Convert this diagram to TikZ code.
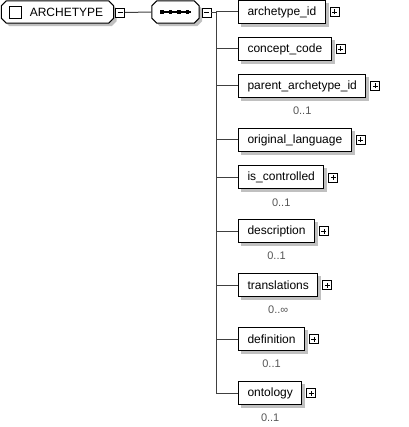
\documentclass[tikz,border=0pt]{standalone}
\usepackage{fontspec}
\setmainfont{Liberation Sans}
\usetikzlibrary{backgrounds}
\definecolor{shadowgray}{HTML}{C0C0C0}
\definecolor{linegray}{HTML}{404040}
\definecolor{multgray}{HTML}{555555}
\pgfdeclarelayer{shadowlayer}
\pgfsetlayers{shadowlayer,background,main}
\tikzset{
  elem/.style={draw=black, fill=white, line width=1pt, minimum height=23pt, inner xsep=9pt, inner ysep=0pt,
    anchor=west, font=\fontsize{12pt}{14pt}\selectfont},
  octa/.style={draw=none, minimum height=22pt, inner sep=0pt, font=\fontsize{12pt}{14pt}\selectfont},
  octline/.style={draw=black, fill=white, line width=1pt},
  shadowfill/.style={fill=shadowgray},
  expbox/.style={draw=black, fill=white, line width=0.9pt, minimum size=9pt, inner sep=0pt},
  minusbox/.style={expbox, path picture={\draw[line width=0.9pt] ([xshift=2pt]path picture bounding box.west) -- ([xshift=-2pt]path picture bounding box.east);}},
  plusbox/.style={expbox, anchor=west, path picture={
     \draw[line width=0.9pt] ([xshift=2pt]path picture bounding box.west) -- ([xshift=-2pt]path picture bounding box.east);
     \draw[line width=0.9pt] ([yshift=2pt]path picture bounding box.south) -- ([yshift=-2pt]path picture bounding box.north);}},
  conn/.style={draw=linegray, line width=1pt},
  mult/.style={text=multgray, font=\fontsize{11pt}{13pt}\selectfont, inner sep=0pt},
}
% chamfered outline of a node, offset by (#2,#3), chamfer 5
\newcommand{\octpath}[3]{%
  ([shift={(#2+5,#3)}]#1.north west) -- ([shift={(#2-5,#3)}]#1.north east) --
  ([shift={(#2,#3+5)}]#1.north east) -- ([shift={(#2,#3-5)}]#1.south east) --
  ([shift={(#2-5,#3)}]#1.south east) -- ([shift={(#2+5,#3)}]#1.south west) --
  ([shift={(#2,#3-5)}]#1.south west) -- ([shift={(#2,#3+5)}]#1.north west) -- cycle}
\begin{document}
\begin{tikzpicture}[x=1pt,y=-1pt]
\useasboundingbox (0,0) rectangle (408,427);
% root element
\node[octa, minimum width=112pt] (root) at (57.5,12) {\hspace*{18pt}ARCHETYPE};
\begin{pgfonlayer}{background}
  \draw[octline] \octpath{root}{0}{0};
\end{pgfonlayer}
\begin{pgfonlayer}{shadowlayer}
  \fill[shadowfill] \octpath{root}{3}{3};
\end{pgfonlayer}
\node[draw=black, fill=white, line width=1pt, minimum size=12pt, inner sep=0pt] (cb) at (15.5,12.5) {};
\node[minusbox] (rm) at (120,12.5) {};
% sequence compositor
\node[octa, minimum width=47pt] (seq) at (175.5,12) {};
\begin{pgfonlayer}{background}
  \draw[octline] \octpath{seq}{0}{0};
\end{pgfonlayer}
\begin{pgfonlayer}{shadowlayer}
  \fill[shadowfill] \octpath{seq}{3}{3};
\end{pgfonlayer}
\draw[line width=1.5pt] (160,12) -- (191,12);
\foreach \dx in {162,170.5,179,187.5}{\fill (\dx-1.8,10.2) rectangle (\dx+1.8,13.8);}
\node[minusbox] (sm) at (206.5,12.5) {};
\draw[conn] (rm.east) -- (seq.west);
\coordinate (tt) at (216,12.5);
\coordinate (tb) at (216,393);
\draw[conn] (sm.east) -- (tt) -- (tb);
% children
\node[elem] (e1) at (238,12) {archetype\_id};
\node[elem] (e2) at (238,49) {concept\_code};
\node[elem] (e3) at (238,86) {parent\_archetype\_id};
\node[elem] (e4) at (238,140) {original\_language};
\node[elem] (e5) at (238,177.5) {is\_controlled};
\node[elem] (e6) at (238,231) {description};
\node[elem] (e7) at (238,285) {translations};
\node[elem] (e8) at (238,339) {definition};
\node[elem] (e9) at (238,393) {ontology};
\foreach \i in {1,...,9}{
  \begin{pgfonlayer}{shadowlayer}
    \fill[shadowfill] ([shift={(3,3)}]e\i.north west) rectangle ([shift={(3,3)}]e\i.south east);
  \end{pgfonlayer}
  \node[plusbox] (p\i) at ([xshift=4pt]e\i.east) {};
  \draw[conn] (tt |- e\i.west) -- (e\i.west);
}
\node[mult] (m3) at ([yshift=-13pt]e3.south) {0..1};
\node[mult] (m5) at ([yshift=-13pt]e5.south) {0..1};
\node[mult] (m6) at ([yshift=-13pt]e6.south) {0..1};
\node[mult] (m7) at ([yshift=-13pt]e7.south) {0..∞};
\node[mult] (m8) at ([yshift=-13pt]e8.south) {0..1};
\node[mult] (m9) at ([yshift=-13pt]e9.south) {0..1};
\end{tikzpicture}
\end{document}
